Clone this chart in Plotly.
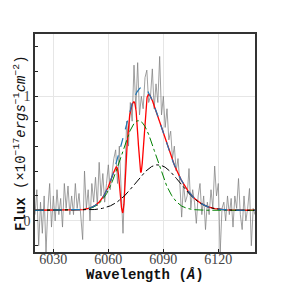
import numpy as np
import plotly.graph_objects as go

wave_start = 6020
flux_obs = [
    0.05, 0.25, -0.20, 0.15, -0.10, 0.20, -0.25, 0.10, 0.30, -0.05,  # 6020-6029
    0.20, 0.00, 0.25, 0.05, 0.18, -0.05, 0.30, 0.10, 0.28, 0.05,     # 6030-6039
    0.20, 0.05, 0.30, 0.10, 0.22, 0.00, -0.15, 0.40, 0.10, 0.25,     # 6040-6049
    0.00, 0.30, 0.15, 0.35, 0.12, 0.47, 0.20, 0.38, 0.15, 0.30,      # 6050-6059
    0.45, 0.25, 0.40, 0.50, 0.57, 0.30, 0.60, 0.20, -0.10, 0.35,     # 6060-6069
    0.80, 0.60, 0.95, 0.80, 1.25, 0.90, 1.27, 0.85, 1.00, 0.90,      # 6070-6079
    1.15, 1.21, 0.95, 1.00, 1.22, 0.90, 1.10, 0.95, 1.32, 0.85,      # 6080-6089
    1.00, 0.75, 0.90, 0.65, 0.72, 0.50, 0.60, 0.40, 0.50, 0.30,      # 6090-6099
    0.03, 0.30, 0.15, 0.20, 0.42, 0.10, 0.25, 0.15, -0.02, 0.20,     # 6100-6109
    0.30, 0.05, 0.20, -0.07, 0.15, 0.05, 0.25, 0.10, 0.44, 0.20,     # 6110-6119
    0.30, -0.26, 0.10, 0.15, 0.00, 0.20, 0.05, 0.18, -0.05, 0.20,    # 6120-6129
    0.10, 0.34, 0.05, -0.07, 0.20, 0.00, 0.10, 0.26, -0.20, 0.10,    # 6130-6139
    0.05,                                                            # 6140
]
wave_obs = [wave_start + i for i in range(len(flux_obs))]

# Fitted model parameters
continuum = 0.085
narrow_amp, narrow_mu, narrow_sig = 0.72, 6076.5, 9.5     # green component
broad_amp, broad_mu, broad_sig = 0.365, 6087.0, 12.0      # black component
abs1_depth, abs1_mu, abs1_sig = 0.60, 6068.0, 1.5         # absorption dips
abs2_depth, abs2_mu, abs2_sig = 0.68, 6077.8, 1.5

x_tickvals = [6030, 6060, 6090, 6120]
y_tickvals = [0, 1]
x_title = "<b>Wavelength (<i>Å</i>)</b>"
y_title = "<b>Flux</b> (×10<sup>−17</sup><i>ergs</i><sup>−1</sup><i>cm</i><sup>−2</sup>)"


def gauss(x, a, mu, s):
    return a * np.exp(-0.5 * ((x - mu) / s) ** 2)


wm = np.linspace(6020, 6140, 1201)
g_narrow = continuum + gauss(wm, narrow_amp, narrow_mu, narrow_sig)
g_broad = continuum + gauss(wm, broad_amp, broad_mu, broad_sig)
total = continuum + gauss(wm, narrow_amp, narrow_mu, narrow_sig) + gauss(wm, broad_amp, broad_mu, broad_sig)
absorbed = total - gauss(wm, abs1_depth, abs1_mu, abs1_sig) - gauss(wm, abs2_depth, abs2_mu, abs2_sig)

fig = go.Figure()
fig.add_trace(go.Scatter(x=wave_obs, y=flux_obs, mode="lines",
                         line=dict(color="rgba(128,128,128,0.75)", width=1)))
fig.add_trace(go.Scatter(x=wm, y=absorbed, mode="lines",
                         line=dict(color="red", width=1.3)))
fig.add_trace(go.Scatter(x=wm, y=g_narrow, mode="lines",
                         line=dict(color="green", width=1, dash="dashdot")))
fig.add_trace(go.Scatter(x=wm, y=g_broad, mode="lines",
                         line=dict(color="black", width=1, dash="dashdot")))
fig.add_trace(go.Scatter(x=wm, y=total, mode="lines",
                         line=dict(color="#1f77b4", width=1.2, dash="dash")))

# page body has an 8px margin, so the figure is sized to the visible area
fig.update_layout(
    width=275, height=276,
    margin=dict(l=27, r=28, t=26, b=32, autoexpand=False),
    paper_bgcolor="white", plot_bgcolor="white",
    showlegend=False,
    font=dict(family="DejaVu Serif", size=12, color="#444"),
)
fig.update_xaxes(
    automargin=False,
    range=[6020, 6140], tickvals=x_tickvals,
    showgrid=True, gridcolor="#e6e6e6", gridwidth=1, zeroline=False,
    showline=True, linecolor="#333", linewidth=1.5, mirror=True,
    ticks="inside", ticklen=3, tickcolor="#222",
    ticklabelstandoff=-7,
    tickfont=dict(family="Liberation Serif", size=14, color="#444"),
)
fig.update_yaxes(
    automargin=False,
    range=[-0.25, 1.5], tickmode="linear", tick0=0, dtick=1,
    showgrid=True, gridcolor="#e6e6e6", gridwidth=1, zeroline=False,
    showline=True, linecolor="#333", linewidth=1.5, mirror=True,
    ticks="inside", ticklen=3, tickcolor="#222",
    minor=dict(dtick=0.2, tick0=0, ticks="inside", ticklen=3, tickcolor="#222", showgrid=False),
    tickfont=dict(family="Liberation Serif", size=14, color="#444"),
)
fig.add_annotation(text=x_title, xref="paper", yref="paper", x=0.5, y=0,
                   xanchor="center", yanchor="middle", yshift=-23, showarrow=False,
                   font=dict(family="Liberation Mono", size=14, color="#111"))
fig.add_annotation(text=y_title, xref="paper", yref="paper", x=0, y=0.5,
                   xanchor="center", yanchor="middle", xshift=-15, textangle=-90,
                   showarrow=False,
                   font=dict(family="Liberation Mono", size=14, color="#111"))

fig.write_html("out.html")
